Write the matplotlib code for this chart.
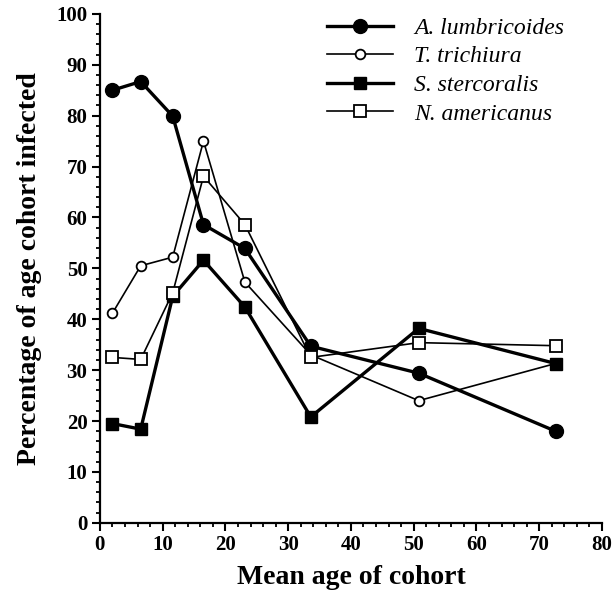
import matplotlib.pyplot as plt
from matplotlib.ticker import MultipleLocator

plt.rcParams['font.family'] = ['Liberation Serif', 'DejaVu Serif']

age = [2.0, 6.5, 11.6, 16.5, 23.1, 33.6, 50.8, 72.6]

lumbricoides = [85.0, 86.7, 79.9, 58.6, 53.9, 34.7, 29.4, 18.0]
trichiura = [41.2, 50.5, 52.2, 75.0, 47.3, 33.0, 24.0, 31.3]
stercoralis = [19.5, 18.4, 44.5, 51.6, 42.4, 20.8, 38.2, 31.3]
americanus = [32.5, 32.1, 45.2, 68.1, 58.6, 32.5, 35.4, 34.8]

names = ['A. lumbricoides', 'T. trichiura', 'S. stercoralis', 'N. americanus']

fig = plt.figure(figsize=(6.13, 6.03), dpi=100)
ax = fig.add_axes([0.163, 0.133, 0.819, 0.844])

ax.plot(age, lumbricoides, '-o', color='black', lw=2.4, ms=10,
        mfc='black', label=names[0])
ax.plot(age, trichiura, '-o', color='black', lw=1.2, ms=7,
        mfc='white', mew=1.3, label=names[1])
ax.plot(age, stercoralis, '-s', color='black', lw=2.4, ms=8,
        mfc='black', label=names[2])
ax.plot(age, americanus, '-s', color='black', lw=1.2, ms=8,
        mfc='white', mew=1.3, label=names[3])

ax.set_xlim(0, 80)
ax.set_ylim(0, 100)
ax.spines['top'].set_visible(False)
ax.spines['right'].set_visible(False)
ax.spines['left'].set_linewidth(1.6)
ax.spines['bottom'].set_linewidth(1.6)
ax.xaxis.set_major_locator(MultipleLocator(10))
ax.xaxis.set_minor_locator(MultipleLocator(2))
ax.yaxis.set_major_locator(MultipleLocator(10))
ax.yaxis.set_minor_locator(MultipleLocator(2))
ax.tick_params(which='major', length=6, width=1.5, labelsize=15, pad=3)
ax.tick_params(which='minor', length=3, width=1.3)
for lab in ax.get_xticklabels() + ax.get_yticklabels():
    lab.set_fontweight('bold')

ax.set_xlabel('Mean age of cohort', fontsize=20, fontweight='bold', labelpad=7)
ax.set_ylabel('Percentage of age cohort infected', fontsize=20,
              fontweight='bold', labelpad=10)

leg = ax.legend(loc='upper left', bbox_to_anchor=(0.41, 1.035), frameon=False,
                handlelength=2.8, labelspacing=0.3, handletextpad=0.9,
                prop={'style': 'italic', 'size': 17})

fig.savefig('out.png', dpi=100)
